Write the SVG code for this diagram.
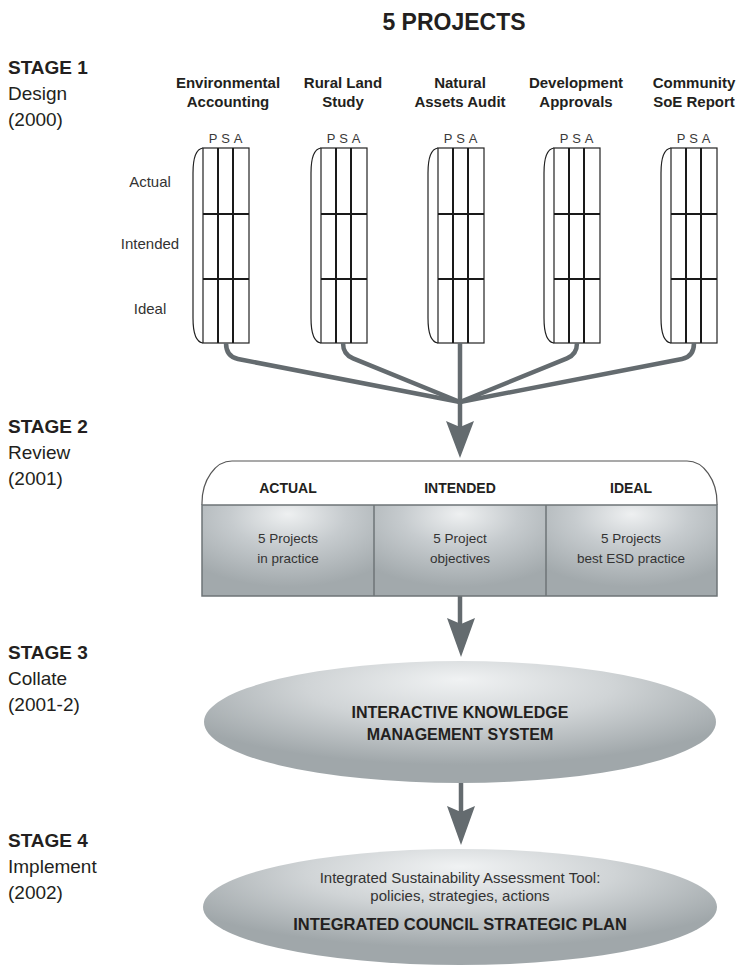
<svg xmlns="http://www.w3.org/2000/svg" width="739" height="967" viewBox="0 0 739 967">
<style>
text{font-family:"Liberation Sans",Arial,sans-serif;fill:#231f20}
.b{font-weight:bold}
.stg{font-size:19px}
.ttl{font-size:15px;font-weight:bold;text-anchor:middle}
.psa{font-size:13px;fill:#3a3a3a;text-anchor:middle}
.row{font-size:15px;text-anchor:middle;fill:#333}
.hdr{font-size:14px;font-weight:bold;text-anchor:middle}
.cell{font-size:13.5px;text-anchor:middle;fill:#333}
.ell{font-size:16px;font-weight:bold;text-anchor:middle}
.frame{fill:#fff;stroke:#222;stroke-width:1.2}
.bracket{fill:none;stroke:#222;stroke-width:1.2}
.gl{stroke:#1a1a1a;stroke-width:2}
.con{fill:none;stroke:#646b6f;stroke-width:4.5;stroke-linejoin:round}
.head{fill:#646b6f}
</style>
<defs>
<radialGradient id="cellG" cx="50%" cy="15%" r="75%" fx="50%" fy="10%">
<stop offset="0" stop-color="#eef0f1"/>
<stop offset="0.45" stop-color="#c6cbce"/>
<stop offset="1" stop-color="#a2a9ac"/>
</radialGradient>
<radialGradient id="ellG" cx="50%" cy="25%" r="60%" fx="50%" fy="15%">
<stop offset="0" stop-color="#f0f2f3"/>
<stop offset="0.5" stop-color="#d0d4d6"/>
<stop offset="1" stop-color="#a0a7aa"/>
</radialGradient>
<g id="grid">
<path class="bracket" d="M0,0 C-8,1 -10,12 -10,25 L-10,170 C-10,183 -8,194 0,195"/>
<rect class="frame" x="0" y="0" width="46" height="195"/>
<line class="gl" x1="15" y1="0" x2="15" y2="195"/>
<line class="gl" x1="30" y1="0" x2="30" y2="195"/>
<line class="gl" x1="0" y1="66" x2="46" y2="66"/>
<line class="gl" x1="0" y1="131" x2="46" y2="131"/>
<text class="psa" x="10" y="-5">P</text>
<text class="psa" x="22.5" y="-5">S</text>
<text class="psa" x="35" y="-5">A</text>
</g>
</defs>

<text class="b" x="454" y="30" style="font-size:23px;text-anchor:middle">5 PROJECTS</text>

<g id="stage1">
<text class="stg b" x="8" y="74">STAGE 1</text>
<text class="stg" x="8" y="100">Design</text>
<text class="stg" x="8" y="126">(2000)</text>
</g>
<g id="stage2">
<text class="stg b" x="8" y="433">STAGE 2</text>
<text class="stg" x="8" y="459">Review</text>
<text class="stg" x="8" y="485">(2001)</text>
</g>
<g id="stage3">
<text class="stg b" x="8" y="659">STAGE 3</text>
<text class="stg" x="8" y="685">Collate</text>
<text class="stg" x="8" y="711">(2001-2)</text>
</g>
<g id="stage4">
<text class="stg b" x="8" y="847">STAGE 4</text>
<text class="stg" x="8" y="873">Implement</text>
<text class="stg" x="8" y="899">(2002)</text>
</g>

<g id="rowlabels">
<text class="row" x="150" y="187">Actual</text>
<text class="row" x="150" y="249">Intended</text>
<text class="row" x="150" y="314">Ideal</text>
</g>

<g id="p1">
<text class="ttl" x="228" y="88">Environmental</text>
<text class="ttl" x="228" y="107">Accounting</text>
<use href="#grid" x="203" y="148"/>
</g>
<g id="p2">
<text class="ttl" x="343" y="88">Rural Land</text>
<text class="ttl" x="343" y="107">Study</text>
<use href="#grid" x="321" y="148"/>
</g>
<g id="p3">
<text class="ttl" x="460" y="88">Natural</text>
<text class="ttl" x="460" y="107">Assets Audit</text>
<use href="#grid" x="438" y="148"/>
</g>
<g id="p4">
<text class="ttl" x="576" y="88">Development</text>
<text class="ttl" x="576" y="107">Approvals</text>
<use href="#grid" x="554" y="148"/>
</g>
<g id="p5">
<text class="ttl" x="694" y="88">Community</text>
<text class="ttl" x="694" y="107">SoE Report</text>
<use href="#grid" x="671" y="148"/>
</g>

<g id="connectors">
<path class="con" d="M226,343 Q226,356.6 238,359 L460,402"/>
<path class="con" d="M343,343 Q343,354.3 353,358.4 L460,402"/>
<path class="con" d="M460,343 L460,428"/>
<path class="con" d="M577,343 Q577,354.3 567,358.4 L460,402"/>
<path class="con" d="M694,343 Q694,356.6 682,359 L460,402"/>
<polygon class="head" points="446,421 460,427 474,421 460,458"/>
<path class="con" d="M460,596 L460,624"/>
<polygon class="head" points="447,618 461,624 475,618 461,657"/>
<path class="con" d="M461,783 L461,812"/>
<polygon class="head" points="447,806 461,812 475,806 461,845"/>
</g>

<g id="review">
<path d="M202,505 L202,503 A30,42 0 0 1 232,461 L687,461 A30,42 0 0 1 717,503 L717,505" fill="#fff" stroke="#555" stroke-width="1.2"/>
<rect x="202" y="505" width="172" height="91" fill="url(#cellG)"/>
<rect x="374" y="505" width="172" height="91" fill="url(#cellG)"/>
<rect x="546" y="505" width="171" height="91" fill="url(#cellG)"/>
<rect x="202" y="505" width="515" height="91" fill="none" stroke="#6e7477" stroke-width="1.5"/>
<line x1="374" y1="505" x2="374" y2="596" stroke="#6e7477" stroke-width="1.5"/>
<line x1="546" y1="505" x2="546" y2="596" stroke="#6e7477" stroke-width="1.5"/>
<text class="hdr" x="288" y="493">ACTUAL</text>
<text class="hdr" x="460" y="493">INTENDED</text>
<text class="hdr" x="631" y="493">IDEAL</text>
<text class="cell" x="288" y="543">5 Projects</text>
<text class="cell" x="288" y="563">in practice</text>
<text class="cell" x="460" y="543">5 Project</text>
<text class="cell" x="460" y="563">objectives</text>
<text class="cell" x="631" y="543">5 Projects</text>
<text class="cell" x="631" y="563">best ESD practice</text>
</g>

<g id="ikms">
<ellipse cx="460" cy="722" rx="256" ry="61" fill="url(#ellG)"/>
<text class="ell" x="460" y="718">INTERACTIVE KNOWLEDGE</text>
<text class="ell" x="460" y="740">MANAGEMENT SYSTEM</text>
</g>

<g id="icsp">
<ellipse cx="460" cy="907" rx="257" ry="58" fill="url(#ellG)"/>
<text class="cell" x="460" y="883" style="font-size:15px">Integrated Sustainability Assessment Tool:</text>
<text class="cell" x="460" y="901" style="font-size:15px">policies, strategies, actions</text>
<text class="ell" x="460" y="930" style="font-size:16.5px">INTEGRATED COUNCIL STRATEGIC PLAN</text>
</g>
</svg>
